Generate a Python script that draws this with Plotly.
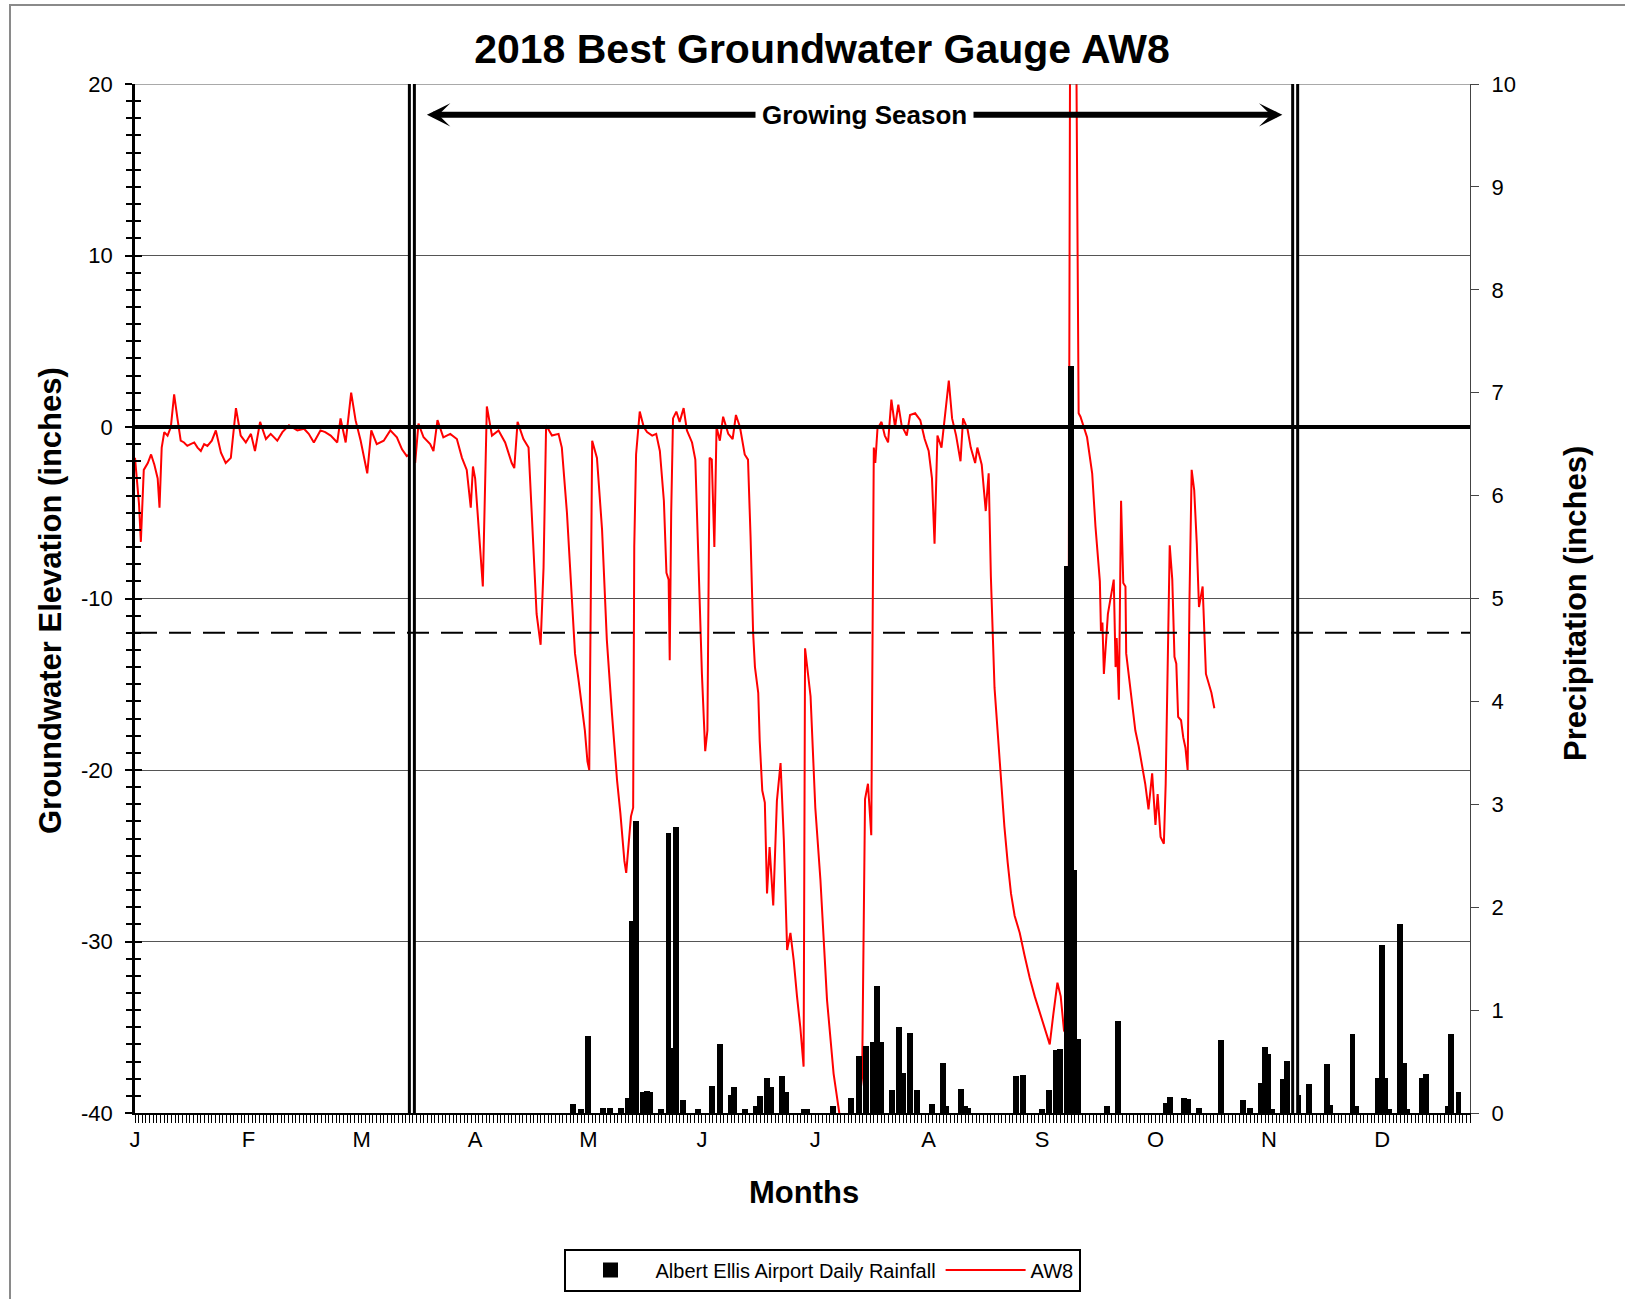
import plotly.graph_objects as go

# ---------------- data ----------------
MONTH_LABELS = ["J", "F", "M", "A", "M", "J", "J", "A", "S", "O", "N", "D"]
MONTH_TICK_DAYS = [0, 31, 62, 93, 124, 155, 186, 217, 248, 279, 310, 341]
GW_TICK_VALUES = [-40, -30, -20, -10, 0, 10, 20]
GW_TICK_LABELS = ["-40", "-30", "-20", "-10", "0", "10", "20"]

GW_DAY = [
    0.0, 0.7, 1.1, 1.6, 2.4, 3.5, 4.4, 5.3, 6.2, 6.7, 7.3, 8.0, 8.9, 9.8, 10.7, 11.6,
    12.5, 13.4, 14.3, 15.2, 16.2, 17.1, 18.0, 18.9, 19.8, 21.0, 22.1, 23.5, 24.8, 26.2,
    27.6, 28.9, 30.3, 31.7, 32.8, 34.2, 35.8, 37.1, 38.9, 40.3, 42.1, 44.4, 46.2, 47.5,
    48.9, 50.7, 52.0, 53.5, 55.3, 56.2, 57.6, 59.1, 60.3, 61.7, 62.6, 63.5, 64.6, 66.1,
    68.0, 69.8, 71.6, 73.0, 74.3, 75.7, 76.6, 77.5, 78.9, 80.7, 81.6, 82.7, 84.3, 86.2,
    88.0, 89.4, 90.7, 91.8, 92.4, 93.0, 94.0, 95.1, 96.2, 97.6, 99.4, 101.2, 103.0,
    103.7, 104.6, 106.2, 107.6, 108.9, 109.8, 110.9, 111.7, 112.4, 114.0, 115.8, 116.7,
    118.1, 119.4, 120.3, 121.3, 122.4, 123.0, 123.7, 124.2, 125.0, 126.3, 127.7, 129.0,
    130.4, 131.8, 132.7, 133.8, 134.3, 134.9, 135.6, 136.2, 136.5, 137.0, 138.0, 139.1,
    140.0, 141.4, 142.5, 143.5, 144.6, 145.3, 145.9, 146.2, 146.6, 147.1, 148.0, 148.9,
    150.0, 150.9, 152.3, 153.2, 154.1, 155.0, 155.9, 156.5, 157.1, 157.7, 158.4, 159.0,
    159.9, 160.8, 162.2, 163.4, 164.3, 165.4, 166.7, 167.6, 168.3, 169.0, 169.5, 170.4,
    170.8, 171.5, 172.2, 172.8, 173.5, 174.5, 175.5, 176.5, 177.4, 178.3, 179.2, 180.1,
    181.0, 181.9, 182.8, 183.2, 184.7, 186.0, 187.4, 189.2, 191.0, 192.9, 194.0, 196.0,
    197.4, 198.8, 199.6, 200.4, 201.3, 202.0, 202.4, 203.0, 204.1, 205.0, 205.9, 206.8,
    207.8, 208.7, 209.6, 211.0, 211.9, 213.3, 214.7, 215.9, 217.0, 217.9, 218.6, 219.4,
    220.5, 221.6, 222.5, 223.4, 224.5, 225.7, 226.4, 227.6, 228.5, 229.7, 230.3, 231.5,
    232.6, 233.4, 234.0, 235.0, 235.9, 236.8, 237.7, 238.6, 239.5, 240.5, 241.9, 243.2,
    244.6, 246.0, 247.4, 248.8, 250.1, 251.1, 252.2, 253.1, 254.0, 255.0, 255.7, 257.3,
    258.0, 258.5, 260.3, 261.7, 262.6, 263.8, 264.1, 264.5, 264.9, 266.0, 267.6, 268.1,
    268.4, 269.0, 269.6, 270.2, 270.8, 271.0, 272.2, 272.9, 273.5, 274.4, 275.3, 276.2,
    277.1, 278.1, 279.0, 279.6, 280.4, 281.3, 281.8, 282.4, 282.9, 283.6, 284.2, 284.7,
    285.2, 286.0, 286.6, 287.2, 287.8, 288.3, 288.9, 289.6, 290.3, 290.9, 291.9, 292.8,
    293.7, 294.3, 295.1,
]
GW_LEVEL = [
    -1.8, -3.7, -4.5, -6.7, -2.5, -2.1, -1.6, -2.2, -3.0, -4.7, -1.2, -0.3, -0.5, 0.0, 1.9, 0.5,
    -0.8, -0.9, -1.1, -1.0, -0.9, -1.2, -1.4, -1.0, -1.1, -0.8, -0.2, -1.5, -2.1, -1.8,
    1.1, -0.5, -0.9, -0.4, -1.4, 0.3, -0.7, -0.4, -0.8, -0.3, 0.1, -0.2, -0.1, -0.4,
    -0.9, -0.2, -0.3, -0.5, -0.9, 0.5, -0.9, 2.0, 0.4, -0.8, -1.8, -2.7, -0.2, -1.0,
    -0.8, -0.2, -0.6, -1.3, -1.7, -1.5, -2.1, 0.2, -0.6, -1.0, -1.4, 0.4, -0.6, -0.4,
    -0.7, -1.8, -2.5, -4.7, -2.3, -3.0, -6.0, -9.3, 1.2, -0.5, -0.2, -0.9, -2.1,
    -2.4, 0.3, -0.7, -1.2, -7.0, -10.9, -12.7, -8.2, 0.1, -0.5, -0.4, -1.2,
    -5.0, -9.9, -13.2, -14.8, -16.5, -17.7, -19.5, -20.0, -0.8, -1.8, -6.0, -12.4,
    -16.7, -20.6, -22.5, -25.3, -26.0, -24.5, -22.7, -22.2, -7.0, -1.6, 0.9, 0.0,
    -0.3, -0.5, -0.4, -1.4, -4.3, -8.5, -8.9, -13.6, -5.0, 0.5, 0.9, 0.3,
    1.1, -0.2, -0.9, -1.9, -8.2, -14.4, -18.9, -17.7, -1.8, -1.9, -7.0, 0.0,
    -0.8, 0.6, -0.4, -0.7, 0.7, 0.0, -1.6, -1.9, -6.4, -12.0, -14.0, -15.5,
    -18.3, -21.2, -21.9, -27.2, -24.5, -27.9, -21.8, -19.6, -24.1, -30.5, -29.5, -31.1,
    -33.2, -35.0, -37.3, -12.9, -15.7, -22.2, -26.4, -33.4, -37.7, -40.5, -44.0, -44.0,
    -40.5, -37.9, -21.7, -20.8, -23.8, -1.2, -2.1, -0.1, 0.3, -0.5, -0.9, 1.6,
    0.0, 1.3, 0.1, -0.5, 0.7, 0.8, 0.4, -0.7, -1.4, -3.0, -6.8, -0.5,
    -1.2, 1.0, 2.7, 0.5, -0.5, -2.0, 0.5, -0.1, -1.2, -2.1, -1.2, -2.2,
    -4.9, -2.7, -8.7, -15.2, -18.1, -20.9, -23.3, -25.4, -27.2, -28.5, -29.5, -30.8,
    -32.1, -33.2, -34.2, -35.2, -36.0, -34.2, -32.4, -33.2, -35.2, -35.5, 26.0, 24.0,
    0.8, 0.6, -0.6, -2.7, -5.8, -9.0, -11.9, -11.4, -14.4, -10.9, -8.9, -14.0,
    -12.3, -15.9, -4.3, -9.1, -9.3, -13.2, -15.5, -16.5, -17.7, -18.6, -19.8, -20.8,
    -22.3, -20.2, -23.2, -21.4, -23.9, -24.3, -20.8, -14.0, -6.9, -8.9, -13.4, -13.8,
    -16.9, -17.1, -18.1, -18.7, -20.0, -10.1, -2.5, -3.7, -6.8, -10.5, -9.3, -14.4,
    -15.1, -15.5, -16.4,
]

RAIN_DAY = [
    120, 122, 124, 128, 130, 133, 135, 136, 137, 139, 140, 141, 144, 146, 147, 148, 150,
    154, 158, 160, 163, 164, 167, 170, 171, 173, 174, 177, 178, 183, 184, 191, 196, 198,
    200, 202, 203, 204, 207, 209, 210, 212, 214, 218, 221, 222, 226, 227, 228, 241, 243,
    248, 250, 252, 253, 255, 256, 257, 258, 266, 269, 282, 283, 287, 288, 291, 297, 303,
    305, 308, 309, 310, 311, 314, 315, 318, 321, 326, 327, 333, 334, 340, 341, 342, 343,
    346, 347, 348, 352, 353, 359, 360, 362,
]
RAIN_IN = [
    0.07, 0.02, 0.73, 0.03, 0.03, 0.03, 0.13, 1.85, 2.82, 0.18, 0.19, 0.18, 0.02, 2.70, 0.61, 2.76, 0.11,
    0.02, 0.24, 0.65, 0.16, 0.23, 0.02, 0.05, 0.15, 0.32, 0.23, 0.34, 0.18, 0.02, 0.02, 0.05, 0.13, 0.53,
    0.63, 0.67, 1.21, 0.67, 0.20, 0.82, 0.37, 0.76, 0.20, 0.07, 0.47, 0.05, 0.21, 0.05, 0.03, 0.34, 0.35,
    0.02, 0.20, 0.59, 0.60, 5.30, 7.24, 2.34, 0.70, 0.05, 0.87, 0.08, 0.14, 0.13, 0.12, 0.03, 0.69, 0.11,
    0.03, 0.27, 0.62, 0.55, 0.02, 0.31, 0.49, 0.16, 0.26, 0.46, 0.06, 0.75, 0.05, 0.32, 1.61, 0.32, 0.02,
    1.82, 0.47, 0.02, 0.32, 0.36, 0.05, 0.75, 0.18,
]

GROWING_SEASON_START = 75.7
GROWING_SEASON_END = 317.2
ARROW_LEFT_DAY = 79.4
ARROW_RIGHT_DAY = 313.7
ARROW_LEVEL = 18.2
REFERENCE_DEPTH = -12

# ---------------- layout geometry ----------------
W, H = 1625, 1299
L, R, T, B = 135, 155, 84, 186
PW = W - L - R
PH = H - T - B
FONT = "Arial, 'Liberation Sans', sans-serif"


def px_x(px):
    return (px - L) / PW


def px_y(py):
    return (H - B - py) / PH


fig = go.Figure()
fig.add_trace(go.Bar(
    x=RAIN_DAY, y=RAIN_IN, yaxis="y2",
    name="Albert Ellis Airport Daily Rainfall",
    marker=dict(color="black", line=dict(color="black", width=3)),
    width=0.8,
))
fig.add_trace(go.Scatter(
    x=GW_DAY, y=GW_LEVEL, mode="lines", name="AW8",
    line=dict(color="#ff0000", width=2),
))
fig.add_trace(go.Scatter(x=[], y=[], yaxis="y3", showlegend=False, hoverinfo="skip"))

shapes = [
    # outer frame
    dict(type="rect", xref="paper", yref="paper", x0=px_x(10), x1=px_x(1700),
         y0=px_y(1400), y1=px_y(5), line=dict(color="#8a8a8a", width=2), layer="below"),
    # top border of plot area
    dict(type="line", xref="paper", yref="y", x0=0, x1=1, y0=20, y1=20,
         line=dict(color="#555555", width=1), layer="above"),
]
for d in (GROWING_SEASON_START, GROWING_SEASON_END):
    shapes.append(dict(type="line", xref="x", yref="y", x0=d, x1=d, y0=-40, y1=20,
                       line=dict(color="black", width=8), layer="above"))
    shapes.append(dict(type="line", xref="x", yref="y", x0=d, x1=d, y0=-40, y1=20,
                       line=dict(color="white", width=2), layer="above"))
shapes += [
    dict(type="line", xref="paper", yref="y", x0=0, x1=1, y0=0, y1=0,
         line=dict(color="black", width=4), layer="above"),
    dict(type="line", xref="paper", yref="y", x0=0, x1=1, y0=REFERENCE_DEPTH, y1=REFERENCE_DEPTH,
         line=dict(color="black", width=2, dash="22px,12px"), layer="above"),
]

annotations = [
    dict(xref="x", yref="y", axref="x", ayref="y",
         x=ARROW_RIGHT_DAY, y=ARROW_LEVEL, ax=ARROW_LEFT_DAY, ay=ARROW_LEVEL,
         text="", showarrow=True, arrowside="end+start",
         arrowhead=3, startarrowhead=3, arrowwidth=6,
         arrowsize=0.65, startarrowsize=0.65, arrowcolor="black"),
    dict(xref="x", yref="y", x=(ARROW_LEFT_DAY + ARROW_RIGHT_DAY) / 2 + 3, y=ARROW_LEVEL,
         text="Growing Season", showarrow=False, bgcolor="white", borderpad=6,
         font=dict(family=FONT, size=26, color="black", weight="bold")),
    dict(xref="paper", yref="paper", x=px_x(50), y=px_y(601),
         text="Groundwater Elevation (inches)", textangle=-90, showarrow=False,
         xanchor="center", yanchor="middle",
         font=dict(family=FONT, size=31, color="black", weight="bold")),
    dict(xref="paper", yref="paper", x=px_x(1575), y=px_y(604),
         text="Precipitation (inches)", textangle=-90, showarrow=False,
         xanchor="center", yanchor="middle",
         font=dict(family=FONT, size=31, color="black", weight="bold")),
    dict(xref="paper", yref="paper", x=px_x(804), y=px_y(1192),
         text="Months", showarrow=False, xanchor="center", yanchor="middle",
         font=dict(family=FONT, size=31, color="black", weight="bold")),
]

fig.update_layout(
    width=W, height=H,
    margin=dict(l=L, r=R, t=T, b=B, pad=0, autoexpand=False),
    paper_bgcolor="white", plot_bgcolor="white",
    font=dict(family=FONT, color="black"),
    title=dict(text="2018 Best Groundwater Gauge AW8", x=822 / W, xref="container",
               y=1 - 49 / H, yref="container", xanchor="center", yanchor="middle",
               font=dict(family=FONT, size=41, color="black", weight="bold")),
    bargap=0,
    showlegend=True,
    legend=dict(orientation="h", x=px_x(822), y=px_y(1270), xanchor="center", yanchor="middle",
                bordercolor="black", borderwidth=2, bgcolor="white", itemwidth=80,
                font=dict(family=FONT, size=20, color="black"), traceorder="normal"),
    xaxis=dict(range=[0, 365], tickmode="array", tickvals=MONTH_TICK_DAYS, ticktext=MONTH_LABELS,
               ticks="outside", ticklen=8, tickwidth=1, tickcolor="black",
               minor=dict(tick0=0, dtick=1, ticks="outside", ticklen=8, tickwidth=1, tickcolor="black"),
               showline=True, linecolor="black", linewidth=2, showgrid=False, zeroline=False,
               tickfont=dict(size=22), ticklabelstandoff=-2),
    yaxis=dict(range=[-40, 20], tickmode="array", tickvals=GW_TICK_VALUES, ticktext=GW_TICK_LABELS,
               ticks="outside", ticklen=7, tickwidth=2, tickcolor="black",
               minor=dict(tickmode="linear", tick0=0, dtick=1, ticks="outside", ticklen=6, tickwidth=2,
                          tickcolor="black", showgrid=False),
               showgrid=True, gridcolor="#555555", gridwidth=1, zeroline=False,
               showline=True, linecolor="black", linewidth=2.5,
               tickfont=dict(size=22), ticklabelstandoff=8),
    yaxis3=dict(overlaying="y", anchor="x", side="left", range=[-40, 20],
                tickmode="linear", tick0=-40, dtick=10,
                ticks="inside", ticklen=7, tickwidth=2, tickcolor="black",
                minor=dict(tick0=0, dtick=1, ticks="inside", ticklen=6, tickwidth=2,
                           tickcolor="black", showgrid=False),
                showticklabels=False, showgrid=False, zeroline=False, showline=False),
    yaxis2=dict(overlaying="y", anchor="x", side="right", range=[0, 10],
                tickmode="linear", tick0=0, dtick=1,
                ticks="outside", ticklen=8, tickwidth=1, tickcolor="#444444",
                showline=True, linecolor="#444444", linewidth=1,
                showgrid=False, zeroline=False,
                tickfont=dict(size=22), ticklabelstandoff=8),
    shapes=shapes,
    annotations=annotations,
)

fig.write_html("out.html", config={"displayModeBar": False},
               post_script="document.body.style.margin='0px';")
